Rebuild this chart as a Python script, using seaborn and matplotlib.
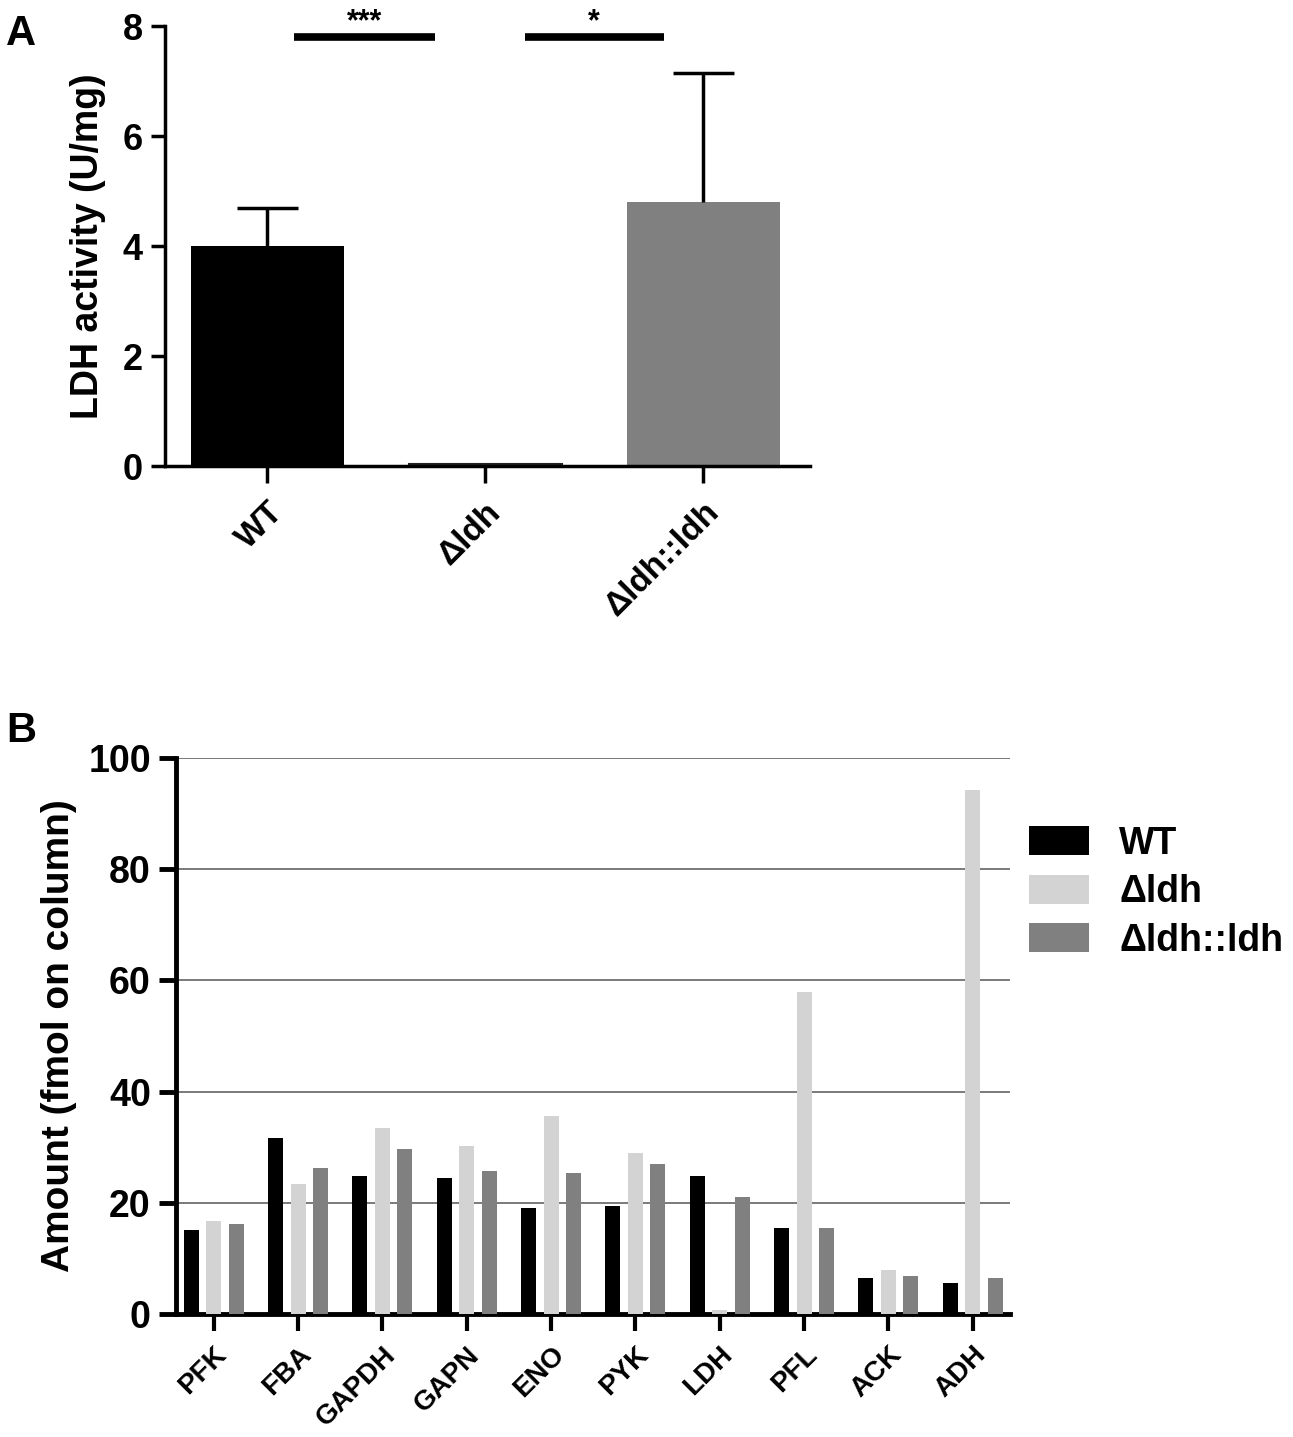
import pandas as pd
import matplotlib
matplotlib.use("Agg")
import matplotlib.pyplot as plt
import seaborn as sns

# Panel A data
strains = ["WT", "\u0394ldh", "\u0394ldh::ldh"]
ldh_activity = [4.0, 0.03, 4.8]
ldh_sd = [0.7, 0.0, 2.35]

# Panel B data
enzymes = ["PFK", "FBA", "GAPDH", "GAPN", "ENO", "PYK", "LDH", "PFL", "ACK", "ADH"]
amount_wt = [15.1, 31.6, 24.8, 24.4, 19.0, 19.4, 24.8, 15.5, 6.4, 5.6]
amount_dldh = [16.8, 23.3, 33.4, 30.3, 35.6, 28.9, 0.7, 58.0, 8.0, 94.2]
amount_comp = [16.1, 26.3, 29.6, 25.7, 25.3, 27.0, 21.1, 15.5, 6.9, 6.4]

colors = ["#000000", "#d3d3d3", "#808080"]

sns.set_style("ticks")
plt.rcParams["font.family"] = ["Liberation Sans", "DejaVu Sans"]
plt.rcParams["font.weight"] = "bold"
for k in ["text.color", "axes.labelcolor", "xtick.color", "ytick.color", "axes.edgecolor"]:
    plt.rcParams[k] = "black"

fig = plt.figure(figsize=(12.93, 14.37), dpi=100)

# ---------------- Panel A ----------------
axA = fig.add_axes([0.1276, 0.6757, 0.4989, 0.3062])
dfA = pd.DataFrame({"strain": strains, "activity": ldh_activity})
sns.barplot(data=dfA, x="strain", y="activity", hue="strain", palette=colors,
            legend=False, width=0.7, ax=axA, linewidth=0)
# thin dark outline only for the near-zero bar
axA.patches[1].set_edgecolor("#222222")
axA.patches[1].set_linewidth(1.5)

# upper error bars only
xs = list(range(len(strains)))
tops = [m + s for m, s in zip(ldh_activity, ldh_sd)]
show = [i for i in xs if ldh_sd[i] > 0]
axA.vlines([xs[i] for i in show], [ldh_activity[i] for i in show],
           [tops[i] for i in show], color="black", lw=2.5)
axA.hlines([tops[i] for i in show], [xs[i] - 0.14 for i in show],
           [xs[i] + 0.14 for i in show], color="black", lw=2.5)

axA.set_ylim(0, 8)
axA.set_xlim(-0.47, 2.49)
axA.set_yticks([0, 2, 4, 6, 8])
axA.set_ylabel("LDH activity (U/mg)", fontsize=27, fontweight="bold", labelpad=12)
axA.set_xlabel("")
for lab in axA.get_yticklabels():
    lab.set_fontsize(26)
    lab.set_fontweight("bold")
axA.set_xticks(xs)
axA.set_xticklabels(strains, rotation=45, ha="right", rotation_mode="anchor",
                    fontsize=24, fontweight="bold")
axA.tick_params(axis="y", length=10, width=2.5, pad=6)
axA.tick_params(axis="x", length=12, width=2.5, pad=10)
sns.despine(ax=axA)
for s in ["left", "bottom"]:
    axA.spines[s].set_linewidth(2.5)

# significance bars
sig = [(0.12, 0.77, "***"), (1.18, 1.82, "*")]
for x0, x1, txt in sig:
    axA.plot([x0, x1], [7.8, 7.8], color="black", lw=5.5, solid_capstyle="butt",
             clip_on=False)
    axA.text((x0 + x1) / 2, 7.8, txt, ha="center", va="bottom", fontsize=22,
             fontweight="bold")

fig.text(0.005, 0.99, "A", fontsize=30, fontweight="bold", va="top")

# ---------------- Panel B ----------------
axB = fig.add_axes([0.136, 0.0856, 0.645, 0.3869])
dfB = pd.DataFrame({
    "enzyme": enzymes * 3,
    "amount": amount_wt + amount_dldh + amount_comp,
    "strain": [strains[0]] * 10 + [strains[1]] * 10 + [strains[2]] * 10,
})
sns.barplot(data=dfB, x="enzyme", y="amount", hue="strain", palette=colors,
            width=0.8, gap=0.33, ax=axB, linewidth=0, zorder=3)
axB.set_ylim(0, 100)
axB.set_xlim(-0.45, 9.44)
axB.set_yticks([0, 20, 40, 60, 80, 100])
axB.yaxis.grid(True, color="#707070", linewidth=1.3)
axB.set_axisbelow(True)
axB.set_ylabel("Amount (fmol on column)", fontsize=28, fontweight="bold", labelpad=8)
axB.set_xlabel("")
for lab in axB.get_yticklabels():
    lab.set_fontsize(27)
    lab.set_fontweight("bold")
axB.set_xticks(range(len(enzymes)))
axB.set_xticklabels(enzymes, rotation=45, ha="right", rotation_mode="anchor",
                    fontsize=20, fontweight="bold")
axB.tick_params(axis="y", length=12, width=3.5, pad=6)
axB.tick_params(axis="x", length=12, width=3, pad=8)
sns.despine(ax=axB)
for s in ["left", "bottom"]:
    axB.spines[s].set_linewidth(3.5)

axB.legend(loc="upper left", bbox_to_anchor=(1.005, 0.905), frameon=False,
           prop={"size": 27, "weight": "bold"}, handlelength=1.6, handleheight=0.8,
           handletextpad=0.8, labelspacing=0.33, borderaxespad=0)

fig.text(0.005, 0.505, "B", fontsize=30, fontweight="bold", va="top")

fig.savefig("out.png", dpi=100)
